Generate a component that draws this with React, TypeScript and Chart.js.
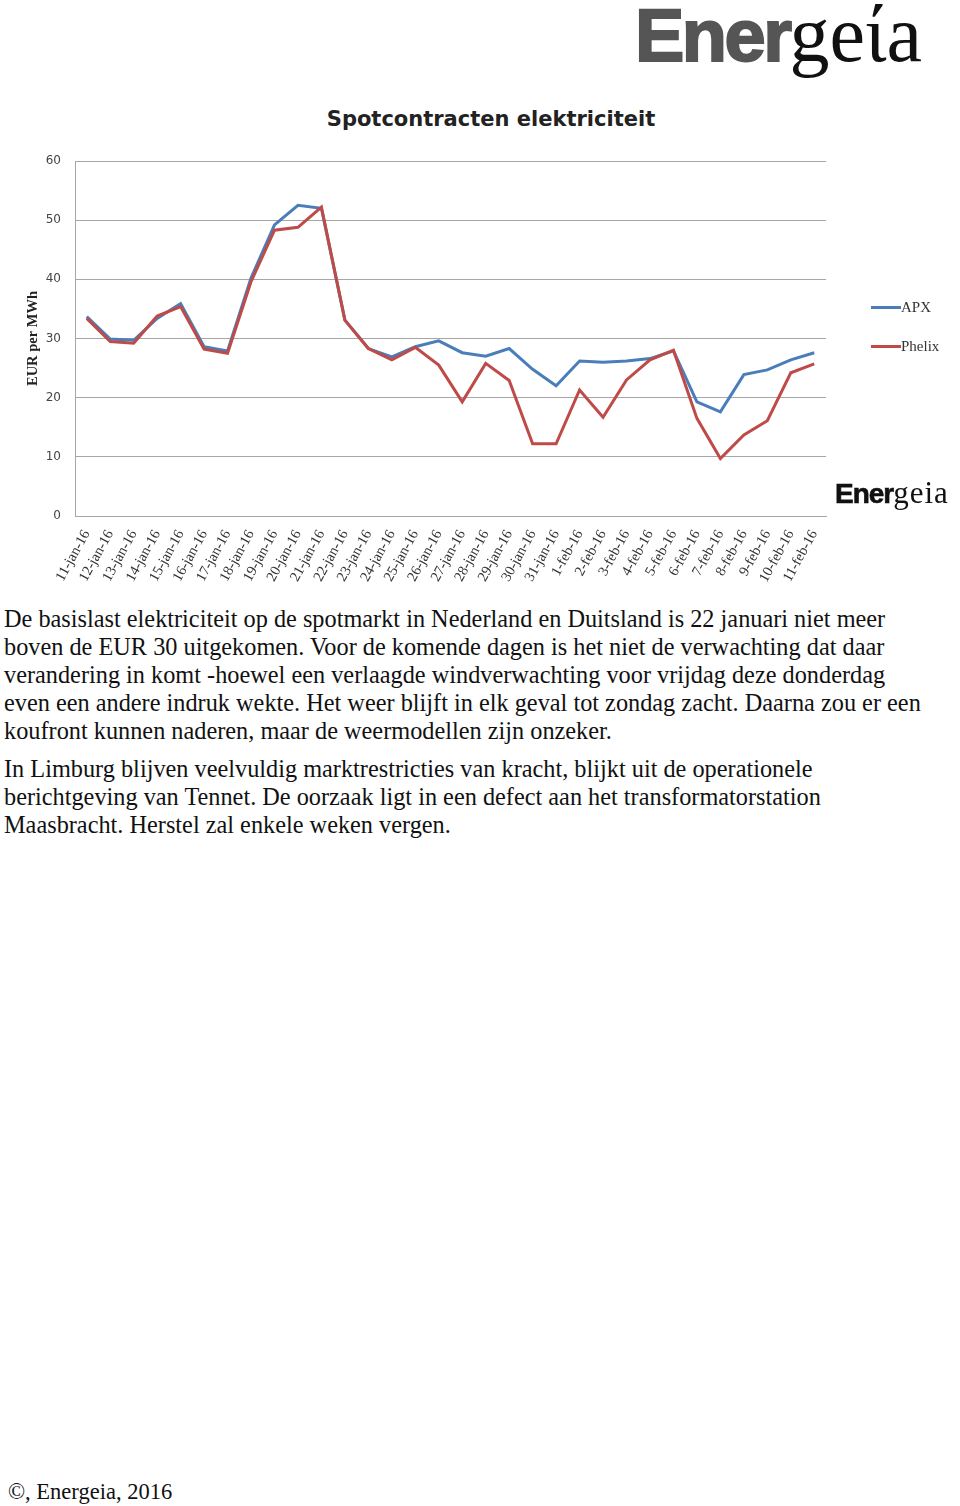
import React, { useEffect, useLayoutEffect, useRef } from "react";
import { Chart, registerables } from "chart.js";

Chart.register(...registerables);

const dateLabels = [
  "11-jan-16", "12-jan-16", "13-jan-16", "14-jan-16", "15-jan-16", "16-jan-16",
  "17-jan-16", "18-jan-16", "19-jan-16", "20-jan-16", "21-jan-16", "22-jan-16",
  "23-jan-16", "24-jan-16", "25-jan-16", "26-jan-16", "27-jan-16", "28-jan-16",
  "29-jan-16", "30-jan-16", "31-jan-16", "1-feb-16", "2-feb-16", "3-feb-16",
  "4-feb-16", "5-feb-16", "6-feb-16", "7-feb-16", "8-feb-16", "9-feb-16",
  "10-feb-16", "11-feb-16",
];

const apxValues = [
  33.7, 29.9, 29.7, 33.4, 35.9, 28.6, 27.9, 40.2, 49.2, 52.5, 52.0, 33.1,
  28.3, 26.9, 28.6, 29.6, 27.6, 27.0, 28.3, 24.8, 22.0, 26.2, 26.0, 26.2,
  26.6, 27.9, 19.3, 17.6, 23.9, 24.7, 26.4, 27.6,
];

const phelixValues = [
  33.4, 29.5, 29.2, 33.8, 35.4, 28.2, 27.5, 39.6, 48.3, 48.8, 52.2, 33.1,
  28.3, 26.4, 28.5, 25.5, 19.3, 25.8, 22.9, 12.2, 12.2, 21.3, 16.7, 23.0,
  26.4, 28.0, 16.5, 9.7, 13.7, 16.1, 24.2, 25.7,
];

const seriesNames = ["APX", "Phelix"];
const seriesColors = ["#4a7ebb", "#be4b48"];

const paragraph1 = [
  "De basislast elektriciteit op de spotmarkt in Nederland en Duitsland is 22 januari niet meer",
  "boven de EUR 30 uitgekomen. Voor de komende dagen is het niet de verwachting dat daar",
  "verandering in komt -hoewel een verlaagde windverwachting voor vrijdag deze donderdag",
  "even een andere indruk wekte. Het weer blijft in elk geval tot zondag zacht. Daarna zou er een",
  "koufront kunnen naderen, maar de weermodellen zijn onzeker.",
];

const paragraph2 = [
  "In Limburg blijven veelvuldig marktrestricties van kracht, blijkt uit de operationele",
  "berichtgeving van Tennet. De oorzaak ligt in een defect aan het transformatorstation",
  "Maasbracht. Herstel zal enkele weken vergen.",
];

const SERIF = "'Liberation Serif', 'Times New Roman', serif";
const SANS = "'Liberation Sans', Arial, sans-serif";

function Logo({ left, top, sansSize, serifSize, sansColor, spacing, serifSpacing, stroke, accent }: any) {
  return (
    <div
      style={{
        position: "absolute",
        left,
        top,
        display: "flex",
        alignItems: "baseline",
        whiteSpace: "nowrap",
      }}
    >
      <span
        style={{
          fontFamily: SANS,
          fontWeight: 700,
          fontSize: sansSize,
          lineHeight: 1,
          color: sansColor,
          letterSpacing: spacing,
          WebkitTextStroke: stroke + "px " + sansColor,
        }}
      >
        Ener
      </span>
      <span
        style={{
          fontFamily: SERIF,
          fontSize: serifSize,
          lineHeight: 1,
          color: "#111",
          letterSpacing: serifSpacing,
        }}
      >
        {accent ? "geίa" : "geia"}
      </span>
    </div>
  );
}

export default function App() {
  const canvasRef = useRef<HTMLCanvasElement | null>(null);

  useLayoutEffect(() => {
    document.body.style.margin = "0";
  }, []);

  useEffect(() => {
    if (!canvasRef.current) return;
    const chart = new Chart(canvasRef.current, {
      type: "line",
      data: {
        labels: dateLabels,
        datasets: [
          {
            label: seriesNames[0],
            data: apxValues,
            borderColor: seriesColors[0],
            backgroundColor: seriesColors[0],
            borderWidth: 3,
            pointRadius: 0,
            tension: 0,
            order: 1,
          },
          {
            label: seriesNames[1],
            data: phelixValues,
            borderColor: seriesColors[1],
            backgroundColor: seriesColors[1],
            borderWidth: 3,
            pointRadius: 0,
            tension: 0,
            order: 0,
          },
        ],
      },
      options: {
        responsive: false,
        animation: false,
        layout: { padding: { left: 0, right: 134, top: 161, bottom: 0 } },
        plugins: {
          legend: { display: false },
          tooltip: { enabled: false },
          title: { display: false },
        },
        scales: {
          x: {
            offset: true,
            grid: { display: false, drawTicks: false },
            border: { display: true, color: "#a6a6a6", width: 1 },
            ticks: {
              autoSkip: false,
              maxRotation: 61,
              minRotation: 61,
              padding: 11,
              color: "#333",
              font: { family: SERIF, size: 14.5 },
            },
            afterFit: (axis: any) => {
              axis.height = 84;
            },
          },
          y: {
            min: 0,
            max: 60,
            grid: { color: "#a6a6a6", lineWidth: 1, drawTicks: false },
            border: { display: true, color: "#a6a6a6", width: 1 },
            ticks: {
              stepSize: 10,
              padding: 14,
              color: "#444",
              font: { family: "'DejaVu Sans', Verdana, sans-serif", size: 12 },
            },
            title: {
              display: true,
              text: "EUR per MWh",
              color: "#222",
              padding: { top: 25, bottom: 0 },
              font: { family: SERIF, size: 14.5, weight: "bold" },
            },
            afterFit: (axis: any) => {
              axis.width = 75;
            },
          },
        },
      },
    });
    return () => chart.destroy();
  }, []);

  const textStyle: React.CSSProperties = {
    fontFamily: SERIF,
    fontSize: 24.3,
    lineHeight: "28px",
    color: "#111",
    whiteSpace: "nowrap",
  };

  return (
    <div style={{ position: "relative", width: 960, height: 1506, background: "#fff", overflow: "hidden" }}>
      <Logo left={635} top={-6} sansSize={74} serifSize={80} sansColor="#555" spacing={-2.5} serifSpacing={0} stroke={2} accent={true} />
      <div
        style={{
          position: "absolute",
          left: 0,
          width: 982,
          top: 109,
          textAlign: "center",
          fontFamily: "'DejaVu Sans', Verdana, sans-serif",
          fontWeight: 700,
          fontSize: 21,
          lineHeight: 1,
          color: "#222",
        }}
      >
        Spotcontracten elektriciteit
      </div>
      <canvas ref={canvasRef} width={960} height={600} style={{ position: "absolute", left: 0, top: 0, width: 960, height: 600 }} />
      {seriesNames.map((name, i) => (
        <div
          key={name}
          style={{
            position: "absolute",
            left: 871,
            top: 297 + i * 39,
            height: 20,
            display: "flex",
            alignItems: "center",
            fontFamily: SERIF,
            fontSize: 15,
            color: "#333",
          }}
        >
          <span style={{ display: "inline-block", width: 30, height: 3, background: seriesColors[i] }} />
          <span>{name}</span>
        </div>
      ))}
      <Logo left={835} top={477} sansSize={28} serifSize={31} sansColor="#111" spacing={-1} serifSpacing={1} stroke={0.6} accent={false} />
      <div style={{ position: "absolute", left: 4, top: 605 }}>
        {paragraph1.map((line, i) => (
          <div key={"p1" + i} style={textStyle}>{line}</div>
        ))}
      </div>
      <div style={{ position: "absolute", left: 4, top: 755 }}>
        {paragraph2.map((line, i) => (
          <div key={"p2" + i} style={textStyle}>{line}</div>
        ))}
      </div>
      <div style={{ position: "absolute", left: 8, top: 1479, fontFamily: SERIF, fontSize: 22.5, lineHeight: "26px", color: "#111", whiteSpace: "nowrap" }}>
        ©, Energeia, 2016
      </div>
    </div>
  );
}
